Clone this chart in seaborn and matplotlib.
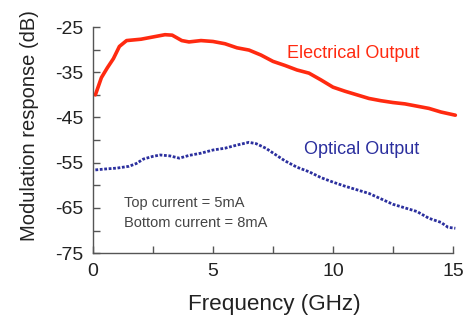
import matplotlib
matplotlib.use("Agg")
import matplotlib.pyplot as plt
import seaborn as sns
import pandas as pd
from matplotlib.ticker import MultipleLocator

# Data
elec_freq = [0.1, 0.35, 0.6, 0.85, 1.1, 1.4, 2.0, 2.5, 3.0, 3.3, 3.7, 4.0, 4.5, 5.0, 5.5,
             6.0, 6.5, 7.0, 7.5, 8.0, 8.5, 9.0, 9.5, 10.0, 10.5, 11.0, 11.5, 12.0,
             12.5, 13.0, 13.5, 14.0, 14.5, 15.1]
elec_db = [-40.0, -36.2, -34.0, -32.0, -29.3, -28.0, -27.7, -27.2, -26.7, -26.8, -28.0,
           -28.3, -28.0, -28.2, -28.7, -29.6, -30.1, -31.2, -32.6, -33.5, -34.5, -35.2,
           -36.7, -38.3, -39.2, -40.0, -40.8, -41.3, -41.7, -42.0, -42.5, -43.0, -43.8, -44.5]

opt_freq = [0.1, 0.5, 1.0, 1.5, 1.8, 2.1, 2.5, 2.8, 3.2, 3.6, 4.0, 4.5, 5.0, 5.5, 6.0,
            6.5, 6.8, 7.2, 7.6, 8.0, 8.5, 9.0, 9.5, 10.0, 10.5, 11.0, 11.5, 12.0, 12.5,
            13.0, 13.5, 14.0, 14.5, 14.8, 15.1]
opt_db = [-56.6, -56.4, -56.2, -55.8, -55.2, -54.2, -53.6, -53.3, -53.5, -54.0, -53.4,
          -52.9, -52.2, -51.8, -51.1, -50.5, -50.8, -51.8, -53.2, -54.6, -56.0, -57.0,
          -58.3, -59.3, -60.2, -61.0, -61.8, -63.0, -64.2, -65.0, -65.8, -67.3, -68.2,
          -69.3, -69.5]

x_ticks = [0, 5, 10, 15]
y_ticks = [-25, -35, -45, -55, -65, -75]

sns.set_style("white")
plt.rcParams['font.family'] = ['Liberation Sans', 'DejaVu Sans']
plt.rcParams['axes.unicode_minus'] = False

fig = plt.figure(figsize=(4.73, 3.2), dpi=100)
ax = fig.add_axes([0.1966, 0.209, 0.761, 0.7066])

df_e = pd.DataFrame({"f": elec_freq, "db": elec_db})
df_o = pd.DataFrame({"f": opt_freq, "db": opt_db})
sns.lineplot(data=df_e, x="f", y="db", ax=ax, color="#ff2a10", linewidth=2.6, clip_on=False)
sns.lineplot(data=df_o, x="f", y="db", ax=ax, color="#2b2f9e", linewidth=2.0,
             linestyle=(0, (1, 0.6)), clip_on=False)

ax.set_xlim(0, 15)
ax.set_ylim(-75, -25)
ax.set_xticks(x_ticks)
ax.set_yticks(y_ticks)
ax.xaxis.set_minor_locator(MultipleLocator(2.5))
ax.yaxis.set_minor_locator(MultipleLocator(5))
ax.tick_params(axis="both", which="both", direction="in", length=5, width=1,
               color="#555555", labelsize=14, labelcolor="#222222",
               bottom=True, left=True)
ax.tick_params(axis="x", pad=7)
ax.tick_params(axis="y", pad=7)
for s in ["top", "right"]:
    ax.spines[s].set_visible(False)
for s in ["left", "bottom"]:
    ax.spines[s].set_color("#555555")
    ax.spines[s].set_linewidth(1.0)

ax.set_xlabel("Frequency (GHz)", fontsize=16.2, color="#222222")
ax.set_ylabel("Modulation response (dB)", fontsize=14.5, color="#222222")
ax.xaxis.set_label_coords(0.503, -0.183)
ax.yaxis.set_label_coords(-0.15, 0.566)

ax.text(8.1, -30.8, "Electrical Output", color="#ff2a10", fontsize=13, va="center")
ax.text(8.8, -52.0, "Optical Output", color="#2b2f9e", fontsize=13, va="center")
ax.text(1.3, -64.0, "Top current = 5mA", color="#444444", fontsize=10.5, va="center")
ax.text(1.3, -68.4, "Bottom current = 8mA", color="#444444", fontsize=10.5, va="center")

fig.savefig("out.png", dpi=100)
